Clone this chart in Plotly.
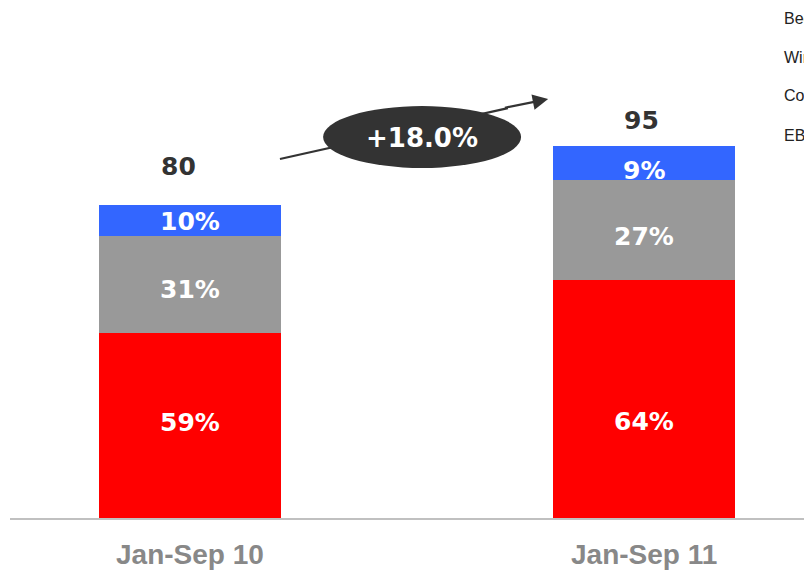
import plotly.graph_objects as go

# Periods and totals
periods = ["Jan-Sep 10", "Jan-Sep 11"]
totals = [80, 95]

# Segment shares (%) per period, stacked bottom to top
share_red = [59, 64]
share_gray = [31, 27]
share_blue = [10, 9]

growth_label = "+18.0%"
legend_names = ["Beer", "Wine", "Corporate", "EBITDA"]

segments = [
    (share_red, "#ff0000"),
    (share_gray, "#999999"),
    (share_blue, "#3366ff"),
]

xs = list(range(len(periods)))
fig = go.Figure()

# stacked bars: each segment is its share of the period total
seg_values = []
for shares, color in segments:
    vals = [t * s / 100 for t, s in zip(totals, shares)]
    seg_values.append(vals)
    fig.add_trace(go.Bar(
        x=xs, y=vals, width=0.4, marker=dict(color=color, line=dict(width=0)),
        hoverinfo="skip", showlegend=False,
    ))

annotations = []
label_font = dict(family="DejaVu Sans", size=25, color="white", weight="bold")

# percentage labels near the middle of each segment (pixel shifts, + = up)
label_shift = [[3, -23], [-5, -7], [-1, -8]]
for k, ((shares, _), vals) in enumerate(zip(segments, seg_values)):
    for i in xs:
        base = sum(seg_values[j][i] for j in range(k))
        annotations.append(dict(
            x=i, y=base + vals[i] / 2, xref="x", yref="y",
            text=f"{shares[i]}%", showarrow=False, font=label_font,
            yanchor="middle", yshift=label_shift[k][i],
        ))

# totals above the bars
total_shift = [38, 26]
total_xshift = [-12, -3]
for i in xs:
    annotations.append(dict(
        x=i, y=totals[i], xref="x", yref="y", text=str(totals[i]),
        showarrow=False, yanchor="middle", yshift=total_shift[i], xshift=total_xshift[i],
        font=dict(family="DejaVu Sans", size=25, color="#333333", weight="bold"),
    ))

# period labels under the baseline
for i in xs:
    annotations.append(dict(
        x=i, y=0, xref="x", yref="y", text=periods[i], showarrow=False,
        yanchor="middle", yshift=-36, borderpad=0,
        font=dict(family="Liberation Sans", size=28, color="#888888", weight="bold"),
    ))

# legend captions at the right edge
for r, name in enumerate(legend_names):
    annotations.append(dict(
        x=0.9723, y=1 - (18 + 39 * r) / 518, xref="paper", yref="paper",
        text=name, showarrow=False, xanchor="left", yanchor="middle",
        font=dict(family="Liberation Sans", size=16, color="#222222"),
    ))

# growth arrow: line under the badge, head drawn past it
arrow_start = (0.198, 91.7)
arrow_tip = (0.7885, 107.0)
shapes = [
    dict(type="line", xref="x", yref="y",
         x0=arrow_start[0], y0=arrow_start[1], x1=0.70, y1=104.7,
         line=dict(color="#333333", width=2.2)),
    dict(type="circle", xref="x", yref="y", x0=0.293, x1=0.729, y0=89.4, y1=105.2,
         fillcolor="#333333", line=dict(width=0)),
]
annotations.append(dict(
    x=arrow_tip[0], y=arrow_tip[1], ax=0.69, ay=104.7,
    xref="x", yref="y", axref="x", ayref="y", text="", showarrow=True,
    arrowhead=2, arrowsize=1.4, arrowwidth=2.2, arrowcolor="#333333",
))
annotations.append(dict(
    x=0.511, y=97.1, xref="x", yref="y", text=growth_label, showarrow=False,
    font=dict(family="DejaVu Sans", size=26, color="white", weight="bold"),
))

fig.update_layout(
    width=804, height=572, barmode="stack",
    margin=dict(l=10, r=0, t=0, b=54),
    paper_bgcolor="white", plot_bgcolor="white",
    xaxis=dict(range=[-0.3965, 1.352], showticklabels=False, showgrid=False,
               zeroline=False, showline=True, linecolor="#c0c0c0", linewidth=2,
               ticks=""),
    yaxis=dict(range=[0, 132.3], visible=False),
    shapes=shapes, annotations=annotations,
)

fig.write_html("out.html")
